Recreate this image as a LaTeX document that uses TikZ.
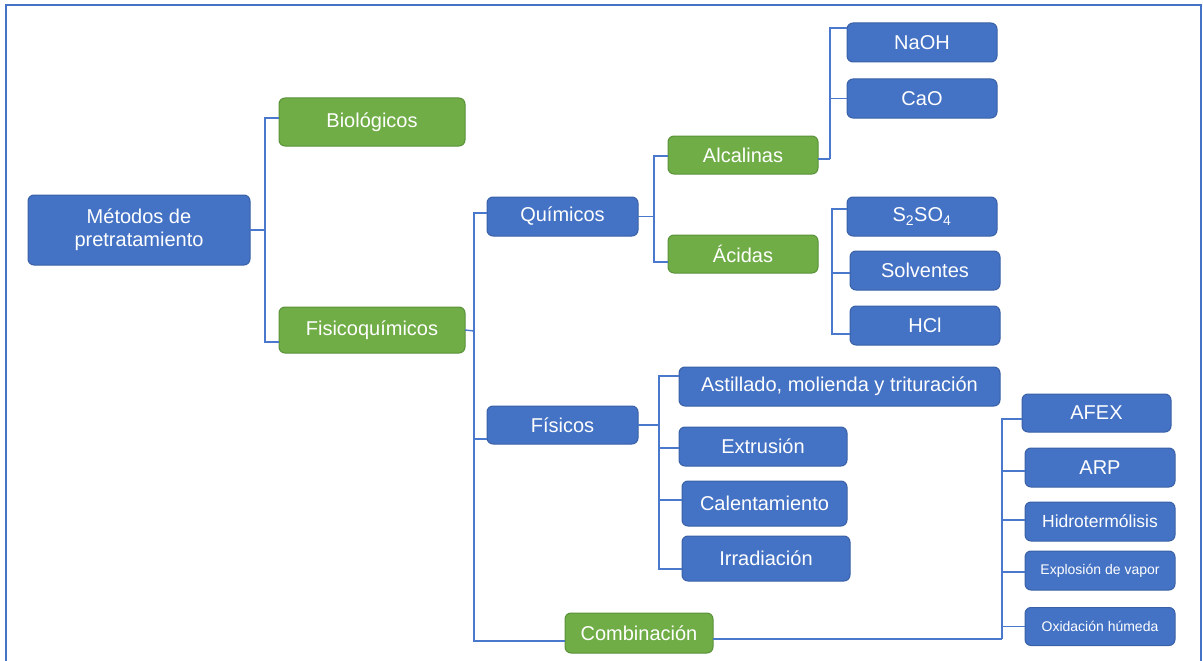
\documentclass[tikz,border=0pt]{standalone}
\usepackage{fontspec}
\setmainfont{Liberation Sans}
\definecolor{boxblue}{HTML}{4472C4}
\definecolor{boxblueedge}{HTML}{3A61A8}
\definecolor{boxgreen}{HTML}{70AD47}
\definecolor{boxgreenedge}{HTML}{5A9239}
\definecolor{linkblue}{HTML}{4A78CC}
\begin{document}
\begin{tikzpicture}[x=1pt,y=-1pt,
  box/.style={rounded corners=6pt, line width=1pt, text=white,
    font=\fontsize{20}{23}\selectfont, inner sep=0pt, outer sep=0pt, align=center},
  bluebox/.style={box, fill=boxblue, draw=boxblueedge},
  greenbox/.style={box, fill=boxgreen, draw=boxgreenedge},
  sz/.style 2 args={minimum width=#1pt, minimum height=#2pt},
  link/.style={draw=linkblue, line width=1.4pt},
  midfont/.style={font=\fontsize{17.5}{20}\selectfont},
  smallfont/.style={font=\fontsize{14}{16}\selectfont}]

\useasboundingbox (0,0) rectangle (1203,661);
\begin{scope}
  \clip (0,0) rectangle (1203,661);
  \draw[draw=boxblue, line width=2pt] (6,5) rectangle (1201,675);
\end{scope}

% root and first level
\node[bluebox, sz={222}{70}] (met) at (139,230) {Métodos de\\pretratamiento};
\node[greenbox, sz={186}{48}] (bio) at (372,122) {Biológicos};
\node[greenbox, sz={186}{46}] (fis) at (372,330) {Fisicoquímicos};

% second level
\node[bluebox, sz={151}{39}] (qui) at (562.5,216.5) {Químicos};
\node[bluebox, sz={151}{38}] (fsc) at (562.5,425) {Físicos};
\node[greenbox, sz={148}{40}] (com) at (639,633) {Combinación};

% chemical branch
\node[greenbox, sz={150}{38}] (alc) at (743,155) {Alcalinas};
\node[greenbox, sz={150}{38}] (aci) at (743,254) {Ácidas};
\node[bluebox, sz={150}{39}] (naoh) at (922,42.5) {NaOH};
\node[bluebox, sz={150}{39}] (cao) at (922,98.5) {CaO};
\node[bluebox, sz={150}{39}] (s2) at (922,216.5) {S\textsubscript{2}SO\textsubscript{4}};
\node[bluebox, sz={150}{39}] (sol) at (925,270.5) {Solventes};
\node[bluebox, sz={150}{39}] (hcl) at (925,325.5) {HCl};

% physical branch
\node[bluebox, sz={321}{39}] (ast) at (839.5,386.5) {Astillado, molienda y trituración};
\node[bluebox, sz={168}{39}] (ext) at (763,446.5) {Extrusión};
\node[bluebox, sz={165}{45}] (cal) at (764.5,503.5) {Calentamiento};
\node[bluebox, sz={168}{45}] (irr) at (766,558.5) {Irradiación};

% combined methods
\node[bluebox, sz={149}{38}] (afex) at (1096.5,413) {AFEX};
\node[bluebox, sz={150}{39}] (arp) at (1100,467.5) {ARP};
\node[bluebox, sz={150}{39}, midfont] (hid) at (1100,521.5) {Hidrotermólisis};
\node[bluebox, sz={150}{39}, smallfont] (exp) at (1100,570.5) {Explosión de vapor};
\node[bluebox, sz={150}{38}, smallfont] (oxi) at (1100,626.5) {Oxidación húmeda};

% junction points of the brackets
\coordinate (j1) at (265,230);
\coordinate (j2) at (474,331);
\coordinate (j3) at (654,216.5);
\coordinate (j4) at (830,159);
\coordinate (j5) at (832,273);
\coordinate (j6) at (659,425);
\coordinate (j7) at (1002,639);

% connectors
\draw[link] (met.east) -- (j1);
\draw[link] ([yshift=4pt]bio.west) -| (j1) |- ([yshift=-12pt]fis.west);

\draw[link] (fis.east) -- (j2);
\draw[link] ([yshift=3.5pt]qui.west) -| (j2) |- ([yshift=-14pt]fsc.west);
\draw[link] (j2) |- ([yshift=-8pt]com.west);

\draw[link] (qui.east) -- (j3);
\draw[link] ([yshift=-1pt]alc.west) -| (j3) |- ([yshift=-8pt]aci.west);

\draw[link] ([yshift=-4pt]alc.east) -- (j4);
\draw[link] ([yshift=14.5pt]naoh.west) -| (j4);
\draw[link] (cao.west) -- (cao.west -| j4);

\draw[link] ([yshift=7.5pt]s2.west) -| (j5) |- ([yshift=-8.5pt]hcl.west);
\draw[link] ([yshift=-2.5pt]sol.west) -- (j5);

\draw[link] (fsc.east) -- (j6);
\draw[link] ([yshift=10.5pt]ast.west) -| (j6) |- ([yshift=-10.5pt]irr.west);
\draw[link] ([yshift=-1.5pt]ext.west) -- ([yshift=-1.5pt]ext.west -| j6);
\draw[link] ([yshift=3.5pt]cal.west) -- ([yshift=3.5pt]cal.west -| j6);

\draw[link] ([yshift=-6pt]com.east) -- (j7);
\draw[link] ([yshift=-6pt]afex.west) -| (j7);
\draw[link] ([yshift=-3.5pt]arp.west) -- ([yshift=-3.5pt]arp.west -| j7);
\draw[link] ([yshift=1.5pt]hid.west) -- ([yshift=1.5pt]hid.west -| j7);
\draw[link] ([yshift=-1.5pt]exp.west) -- ([yshift=-1.5pt]exp.west -| j7);
\draw[link] (oxi.west) -- (oxi.west -| j7);
\end{tikzpicture}
\end{document}
